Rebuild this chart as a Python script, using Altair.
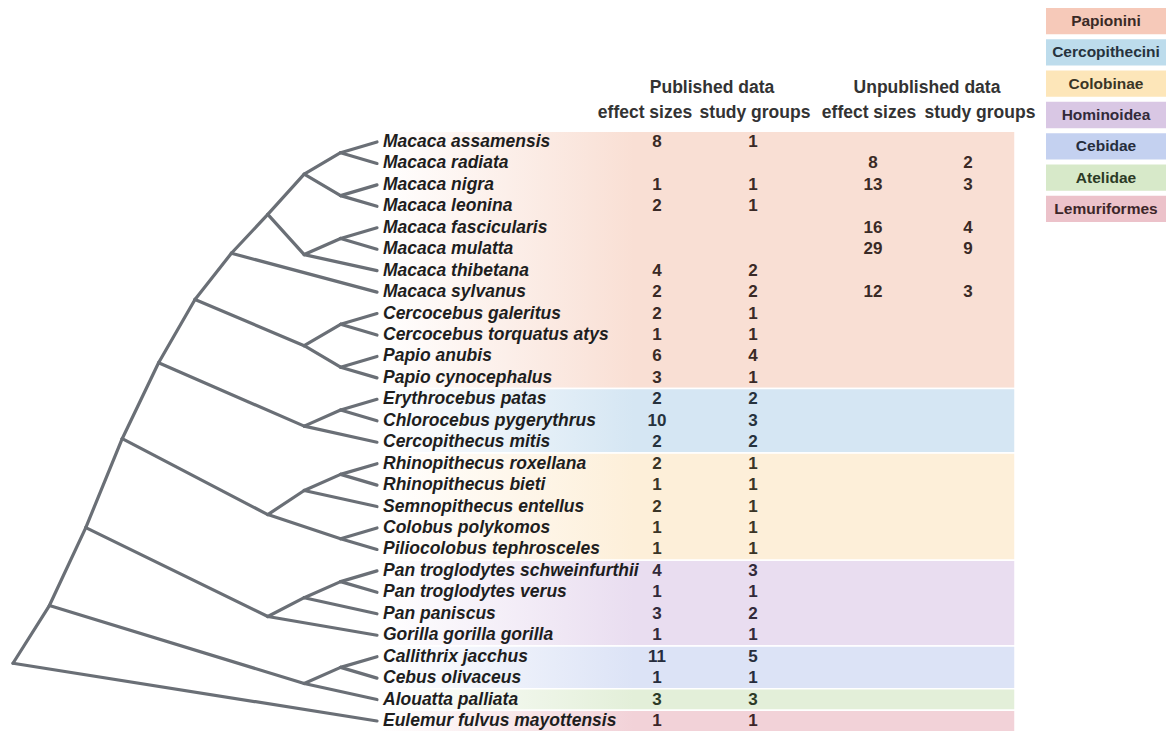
import altair as alt
import pandas as pd

# ---------------- data ----------------
species = [
    "Macaca assamensis", "Macaca radiata", "Macaca nigra", "Macaca leonina",
    "Macaca fascicularis", "Macaca mulatta", "Macaca thibetana", "Macaca sylvanus",
    "Cercocebus galeritus", "Cercocebus torquatus atys", "Papio anubis", "Papio cynocephalus",
    "Erythrocebus patas", "Chlorocebus pygerythrus", "Cercopithecus mitis",
    "Rhinopithecus roxellana", "Rhinopithecus bieti", "Semnopithecus entellus",
    "Colobus polykomos", "Piliocolobus tephrosceles",
    "Pan troglodytes schweinfurthii", "Pan troglodytes verus", "Pan paniscus",
    "Gorilla gorilla gorilla",
    "Callithrix jacchus", "Cebus olivaceus",
    "Alouatta palliata",
    "Eulemur fulvus mayottensis",
]
groups = (["Papionini"] * 12 + ["Cercopithecini"] * 3 + ["Colobinae"] * 5 +
          ["Hominoidea"] * 4 + ["Cebidae"] * 2 + ["Atelidae"] + ["Lemuriformes"])
group_names = ["Papionini", "Cercopithecini", "Colobinae", "Hominoidea",
               "Cebidae", "Atelidae", "Lemuriformes"]

pub_effect = [8, None, 1, 2, None, None, 4, 2, 2, 1, 6, 3, 2, 10, 2, 2, 1, 2, 1, 1,
              4, 1, 3, 1, 11, 1, 3, 1]
pub_groups = [1, None, 1, 1, None, None, 2, 2, 1, 1, 4, 1, 2, 3, 2, 1, 1, 1, 1, 1,
              3, 1, 2, 1, 5, 1, 3, 1]
unpub_effect = [None, 8, 13, None, 16, 29, None, 12] + [None] * 20
unpub_groups = [None, 2, 3, None, 4, 9, None, 3] + [None] * 20

header_top = ["Published data", "Unpublished data"]
header_sub = ["effect sizes", "study groups", "effect sizes", "study groups"]

# tree topology
macaca = [[[["Macaca assamensis", "Macaca radiata"], ["Macaca nigra", "Macaca leonina"]],
           [["Macaca fascicularis", "Macaca mulatta"], "Macaca thibetana"]],
          "Macaca sylvanus"]
papionini = [macaca, [["Cercocebus galeritus", "Cercocebus torquatus atys"],
                      ["Papio anubis", "Papio cynocephalus"]]]
cercopithecini = [["Erythrocebus patas", "Chlorocebus pygerythrus"], "Cercopithecus mitis"]
colobinae = [[["Rhinopithecus roxellana", "Rhinopithecus bieti"], "Semnopithecus entellus"],
             ["Colobus polykomos", "Piliocolobus tephrosceles"]]
hominoidea = [[["Pan troglodytes schweinfurthii", "Pan troglodytes verus"], "Pan paniscus"],
              "Gorilla gorilla gorilla"]
platyrrhini = [["Callithrix jacchus", "Cebus olivaceus"], "Alouatta palliata"]
cercopithecinae = [papionini, cercopithecini]
cercopithecidae = [cercopithecinae, colobinae]
catarrhini = [cercopithecidae, hominoidea]
anthropoidea = [catarrhini, platyrrhini]
tree = [anthropoidea, "Eulemur fulvus mayottensis"]

# ---------------- styles ----------------
FONT = "Liberation Sans, Arial, Helvetica, sans-serif"
legend_fill = ["#f6c9b9", "#bddcec", "#fde6b9", "#d9c7e4", "#c4d1f0", "#d7e9c9", "#ecc2ca"]
legend_text = ["#5b2a1d", "#1f3b55", "#4d3c10", "#3d2549", "#20305a", "#24401b", "#4e1c27"]
band_color = ["#f9dfd4", "#d5e6f3", "#fdefd9", "#e9ddf0", "#dce3f6", "#e3efd9", "#f2d2d8"]
num_color = ["#3a2a26", "#26323d", "#3a3526", "#322a3a", "#262d3d", "#2c3a26", "#3d2629"]
TREE_COLOR = "#6a6f76"

col_x = [649, 745, 865, 960]
sub_x = [637, 747, 861, 972]
top_x = [704, 919]

# ---------------- tree layout ----------------
edges = []


def lay(node):
    if isinstance(node, str):
        return 0, species.index(node)
    kids = [lay(c) for c in node]
    h = max(k[0] for k in kids) + 1
    y = (kids[0][1] + kids[-1][1]) / 2
    for k in kids:
        edges.append({"h1": h, "r1": y, "h2": k[0], "r2": k[1]})
    return h, y


lay(tree)
edges_df = pd.DataFrame(edges)

xs = alt.Scale(domain=[0, 10], range=[369, 5], nice=False, zero=False)
ys = alt.Scale(domain=[0, 27], range=[134, 713], nice=False, zero=False)

tree_layer = alt.Chart(edges_df).mark_rule(
    color=TREE_COLOR, strokeWidth=3.2, strokeCap="round"
).encode(
    x=alt.X("h1:Q", scale=xs, axis=None),
    x2="h2:Q",
    y=alt.Y("r1:Q", scale=ys, axis=None),
    y2="r2:Q",
)

# ---------------- bands ----------------
band_layers = []
for gi, g in enumerate(group_names):
    idx = [i for i, gg in enumerate(groups) if gg == g]
    bdf = pd.DataFrame({"top": [min(idx) - 0.5], "bot": [max(idx) + 0.5]})
    grad = alt.LinearGradient(
        gradient="linear",
        stops=[alt.GradientStop(offset=0, color="#ffffff"),
               alt.GradientStop(offset=0.4, color=band_color[gi]),
               alt.GradientStop(offset=1, color=band_color[gi])],
        x1=0, x2=1, y1=0, y2=0,
    )
    band_layers.append(
        alt.Chart(bdf).mark_rect(fill=grad, stroke="white", strokeWidth=1.5).encode(
            y=alt.Y("top:Q", scale=ys, axis=None),
            y2="bot:Q",
            x=alt.value(372),
            x2=alt.value(1007),
        )
    )

# ---------------- species labels ----------------
sp_df = pd.DataFrame({"row": range(len(species)), "name": species, "group": groups})
species_layer = alt.Chart(sp_df).mark_text(
    align="left", baseline="middle", font=FONT, fontSize=17.5,
    fontStyle="italic", fontWeight="bold", color="#1e1e1e"
).encode(
    y=alt.Y("row:Q", scale=ys, axis=None),
    x=alt.value(375),
    text="name:N",
)

# ---------------- numbers ----------------
num_layers = []
for ci, col in enumerate([pub_effect, pub_groups, unpub_effect, unpub_groups]):
    rows = [(i, str(v), groups[i]) for i, v in enumerate(col) if v is not None]
    ndf = pd.DataFrame(rows, columns=["row", "label", "group"])
    num_layers.append(
        alt.Chart(ndf).mark_text(
            align="center", baseline="middle", font=FONT, fontSize=17, fontWeight="bold"
        ).encode(
            y=alt.Y("row:Q", scale=ys, axis=None),
            x=alt.value(col_x[ci]),
            text="label:N",
            color=alt.Color("group:N", scale=alt.Scale(domain=group_names, range=num_color),
                            legend=None),
        )
    )

# ---------------- headers ----------------
head_layers = []
for i, t in enumerate(header_top):
    head_layers.append(
        alt.Chart(pd.DataFrame({"t": [t]})).mark_text(
            align="center", baseline="middle", font=FONT, fontSize=17.5,
            fontWeight="bold", color="#333333"
        ).encode(x=alt.value(top_x[i]), y=alt.value(80), text="t:N")
    )
for i, t in enumerate(header_sub):
    head_layers.append(
        alt.Chart(pd.DataFrame({"t": [t]})).mark_text(
            align="center", baseline="middle", font=FONT, fontSize=17.5,
            fontWeight="bold", color="#333333"
        ).encode(x=alt.value(sub_x[i]), y=alt.value(105), text="t:N")
    )

main = alt.layer(*band_layers, tree_layer, species_layer, *num_layers, *head_layers).properties(
    width=1036, height=724
)

# ---------------- legend ----------------
leg_df = pd.DataFrame({"group": group_names})
ly = alt.Y("group:N", sort=group_names,
           scale=alt.Scale(domain=group_names, paddingInner=0.16, paddingOuter=0), axis=None)
leg_boxes = alt.Chart(leg_df).mark_rect().encode(
    y=ly, x=alt.value(2), x2=alt.value(122),
    fill=alt.Fill("group:N", scale=alt.Scale(domain=group_names, range=legend_fill), legend=None),
)
leg_text = alt.Chart(leg_df).mark_text(
    align="center", baseline="middle", font=FONT, fontSize=15.5, fontWeight="bold"
).encode(
    y=ly, x=alt.value(62), text="group:N",
    color=alt.Color("group:N", scale=alt.Scale(domain=group_names, range=legend_text), legend=None),
)
legend = alt.layer(leg_boxes, leg_text).properties(width=122, height=214)

chart = alt.hconcat(main, legend, spacing=0, bounds="flush").properties(
    padding={"left": 0, "top": 0, "right": 0, "bottom": 0}, background="white"
).configure_view(stroke=None)

chart.save("out.html", embed_options={"renderer": "svg", "actions": False})
